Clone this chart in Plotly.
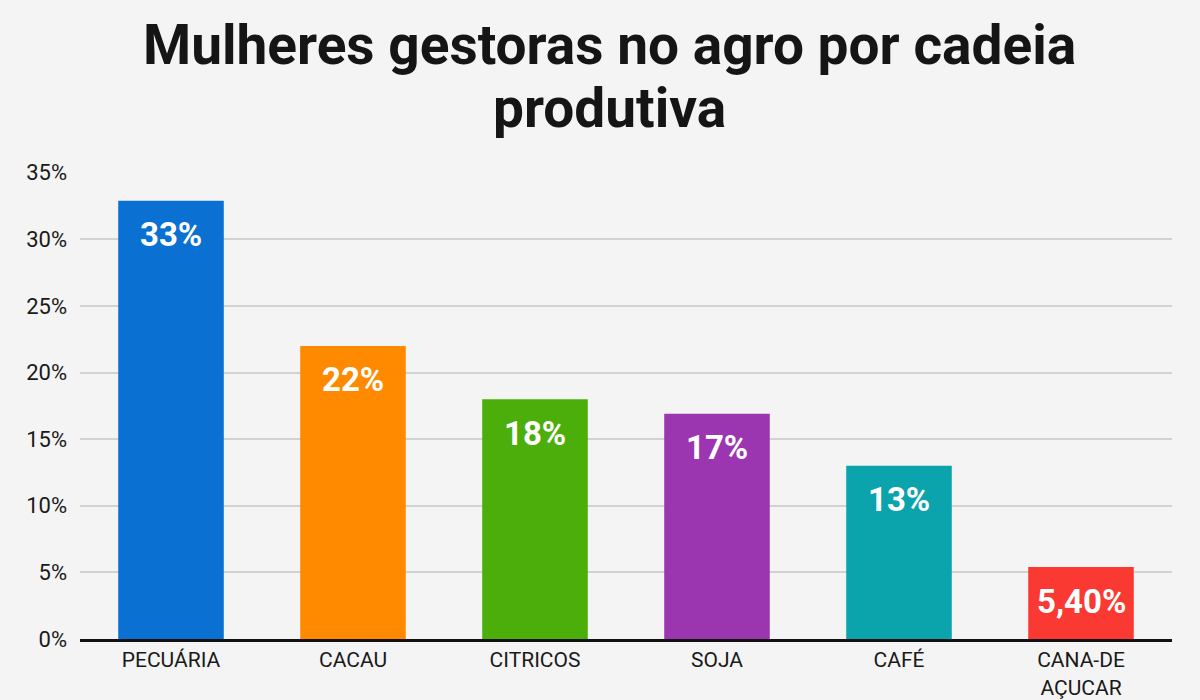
import plotly.graph_objects as go

categories = ["PECUÁRIA", "CACAU", "CITRICOS", "SOJA", "CAFÉ", "CANA-DE<br>AÇUCAR"]
values = [32.9, 22.0, 18.0, 16.9, 13.0, 5.4]
labels = ["33%", "22%", "18%", "17%", "13%", "5,40%"]
colors = ["#0A70D2", "#FF8A00", "#4BAE0A", "#9B36B0", "#0BA3AC", "#FA3A32"]
tick_vals = [0, 5, 10, 15, 20, 25, 30, 35]
tick_text = ["0%", "5%", "10%", "15%", "20%", "25%", "30%", "35%"]
title_lines = ["Mulheres gestoras no agro por cadeia", "produtiva"]

fig = go.Figure()
fig.add_trace(go.Bar(x=categories, y=values, marker=dict(color=colors, line=dict(width=0)),
                     hoverinfo="skip"))

for c, v, t in zip(categories, values, labels):
    fig.add_annotation(x=c, y=v, text=t, showarrow=False, yanchor="middle", yshift=-34,
                       font=dict(family="Roboto, Arial, sans-serif", size=33, color="white", weight="bold"))

title_font = dict(family="Roboto, sans-serif", size=55, color="#151515", weight="bold")
for line, ypos in zip(title_lines, [1.272, 1.137]):
    fig.add_annotation(xref="paper", yref="paper", x=0.485, y=ypos, text=line,
                       showarrow=False, xanchor="center", yanchor="middle", font=title_font)

fig.update_layout(
    width=1200, height=700,
    margin=dict(l=80, r=28, t=172, b=61),
    paper_bgcolor="#F4F4F4", plot_bgcolor="#F4F4F4",
    bargap=0.42,
    showlegend=False,
    xaxis=dict(showline=True, linecolor="#111111", linewidth=3, ticks="", automargin=False,
               tickfont=dict(family="Roboto, Arial, sans-serif", size=21, color="#1A1A1A"),
               showgrid=False),
    yaxis=dict(range=[0, 35.05], tickvals=tick_vals, ticktext=tick_text, automargin=False,
               showgrid=True, gridcolor="#D2D2D2", gridwidth=1.5, zeroline=False,
               ticklabelstandoff=12,
               tickfont=dict(family="Roboto, Arial, sans-serif", size=22, color="#1A1A1A")),
)

fig.write_html("out.html")
